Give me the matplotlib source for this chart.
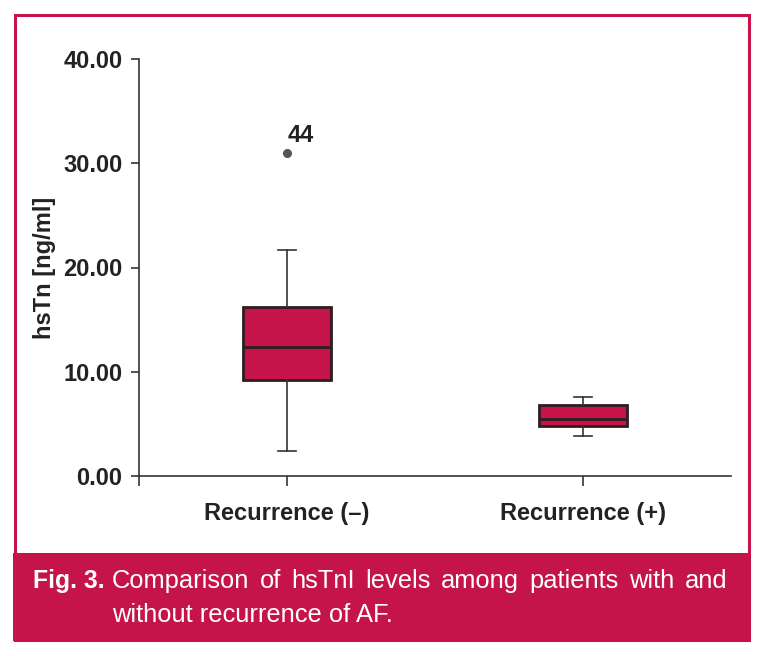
import matplotlib
matplotlib.use("Agg")
import matplotlib.pyplot as plt
from matplotlib.patches import Rectangle

# values (hsTnI, ng/ml)
groups = ["Recurrence (\u2013)", "Recurrence (+)"]
whisker_low = [2.4, 3.8]
q1 = [9.2, 4.8]
median = [12.4, 5.5]
q3 = [16.2, 6.8]
whisker_high = [21.7, 7.6]
outliers = [[31.0], []]
outlier_ids = [["44"], []]

crimson = "#C5144A"
edge = "#2B1D20"
axis_col = "#333333"

plt.rcParams["font.family"] = ["Liberation Sans", "DejaVu Sans"]

fig = plt.figure(figsize=(7.63, 6.56), dpi=100)

# outer frame and caption band
fig.patches.append(Rectangle((13 / 763, 1 - 641 / 656), 737 / 763, 88 / 656,
                             transform=fig.transFigure, facecolor=crimson,
                             edgecolor="none", zorder=0))
fig.patches.append(Rectangle((14.5 / 763, 1 - 640 / 656), 734 / 763, 625 / 656,
                             transform=fig.transFigure, facecolor="none",
                             edgecolor=crimson, linewidth=2.2, zorder=5))

ax = fig.add_axes([139 / 763, 1 - 476 / 656, (731 - 139) / 763, (476 - 59) / 656])

stats = []
for i, g in enumerate(groups):
    stats.append(dict(label=g, whislo=whisker_low[i], q1=q1[i], med=median[i],
                      q3=q3[i], whishi=whisker_high[i], fliers=outliers[i]))

positions = [1, 2]
ax.bxp(stats, positions=positions, widths=0.3, patch_artist=True,
       showfliers=True, capwidths=0.058,
       boxprops=dict(facecolor=crimson, edgecolor=edge, linewidth=2.0),
       medianprops=dict(color=edge, linewidth=2.0),
       whiskerprops=dict(color=axis_col, linewidth=1.2),
       capprops=dict(color=axis_col, linewidth=1.2),
       flierprops=dict(marker="o", markersize=5.5, markerfacecolor="#555555",
                       markeredgecolor="#555555"))

for i, pos in enumerate(positions):
    for v, lab in zip(outliers[i], outlier_ids[i]):
        ax.annotate(lab, (pos, v), xytext=(0.5, 4), textcoords="offset points",
                    ha="left", va="bottom", fontsize=17, fontweight="bold",
                    color="#222222")

ax.set_xlim(0.5, 2.5)
ax.set_ylim(0, 40)
ax.set_yticks([0, 10, 20, 30, 40])
ax.set_yticklabels(["%.2f" % v for v in [0, 10, 20, 30, 40]],
                   fontsize=17, fontweight="bold", color="#222222")
ax.set_xticks([0.5] + positions)
ax.set_xticklabels([""] + groups, fontsize=17, fontweight="bold", color="#222222")
ax.tick_params(axis="y", length=6, width=1.2, color=axis_col, pad=6)
ax.tick_params(axis="x", length=7, width=1.2, color=axis_col, pad=12)
ax.set_ylabel("hsTn [ng/ml]", fontsize=17, fontweight="bold", color="#222222",
              labelpad=5)

for s in ["top", "right"]:
    ax.spines[s].set_visible(False)
for s in ["left", "bottom"]:
    ax.spines[s].set_color(axis_col)
    ax.spines[s].set_linewidth(1.2)

# caption, first line justified between x=112 and x=727
cap_size = 18.4
y1 = 1 - 588 / 656
y2 = 1 - 622 / 656
fig.text(33 / 763, y1, "Fig. 3.", color="white", fontsize=17.8,
         fontweight="bold", ha="left", va="baseline")
words = "Comparison of hsTnI levels among patients with and".split()
fig.canvas.draw()
renderer = fig.canvas.get_renderer()
tmp = [fig.text(0, 0, w, fontsize=cap_size) for w in words]
widths = [t.get_window_extent(renderer).width for t in tmp]
for t in tmp:
    t.remove()
x0, x1 = 112, 727
gap = (x1 - x0 - sum(widths)) / (len(words) - 1)
x = x0
for w, wd in zip(words, widths):
    fig.text(x / 763, y1, w, color="white", fontsize=cap_size, ha="left",
             va="baseline")
    x += wd + gap
fig.text(112 / 763, y2, "without recurrence of AF.", color="white",
         fontsize=cap_size, ha="left", va="baseline")

fig.savefig("out.png", dpi=100)
